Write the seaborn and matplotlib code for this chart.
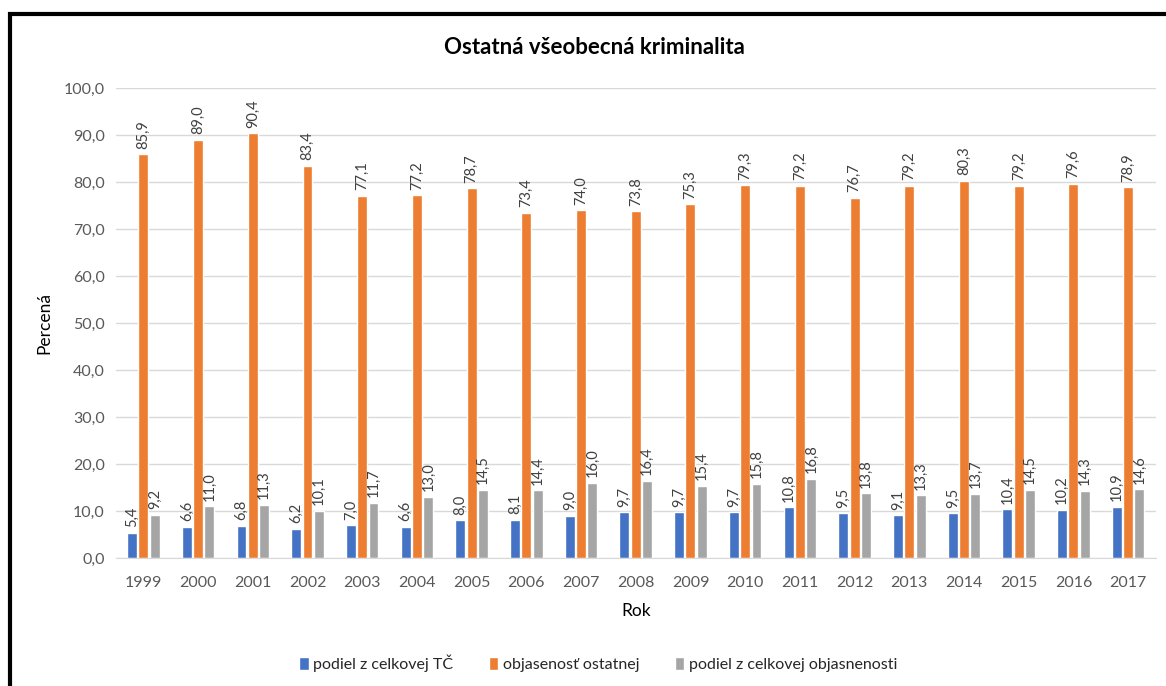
import pandas as pd
import matplotlib.pyplot as plt
import matplotlib.patches as mpatches
from matplotlib.ticker import FuncFormatter, MultipleLocator
import seaborn as sns

# Hodnoty odčítané z grafu
roky = [str(r) for r in range(1999, 2018)]
podiel_tc = [5.4, 6.6, 6.8, 6.2, 7.0, 6.6, 8.0, 8.1, 9.0, 9.7,
             9.7, 9.7, 10.8, 9.5, 9.1, 9.5, 10.4, 10.2, 10.9]
objasenost = [85.9, 89.0, 90.4, 83.4, 77.1, 77.2, 78.7, 73.4, 74.0, 73.8,
              75.3, 79.3, 79.2, 76.7, 79.2, 80.3, 79.2, 79.6, 78.9]
podiel_obj = [9.2, 11.0, 11.3, 10.1, 11.7, 13.0, 14.5, 14.4, 16.0, 16.4,
              15.4, 15.8, 16.8, 13.8, 13.3, 13.7, 14.5, 14.3, 14.6]
serie = ['podiel z celkovej TČ', 'objasenosť ostatnej', 'podiel z celkovej objasnenosti']
farby = ['#4472C4', '#ED7D31', '#A5A5A5']

df = pd.DataFrame({'Rok': roky * 3,
                   'seria': [s for s in serie for _ in roky],
                   'hodnota': podiel_tc + objasenost + podiel_obj})

sns.set_style('white')
plt.rcParams['font.family'] = ['Lato', 'DejaVu Sans']

fig = plt.figure(figsize=(11.66, 6.86), dpi=100)
ax = fig.add_axes([0.0995, 0.1866, 0.8915, 0.6851])

sns.barplot(data=df, x='Rok', y='hodnota', hue='seria', hue_order=serie,
            palette=farby, width=0.62, gap=0.12, saturation=1, ax=ax)

fmt = lambda v: f'{v:.1f}'.replace('.', ',')
for cont in ax.containers:
    ax.bar_label(cont, labels=[fmt(b.get_height()) for b in cont],
                 rotation=90, padding=4, fontsize=10.5, color='#404040')

ax.set_ylim(0, 100)
ax.yaxis.set_major_locator(MultipleLocator(10))
ax.yaxis.set_major_formatter(FuncFormatter(lambda v, p: fmt(v)))
ax.grid(axis='y', color='#D9D9D9', linewidth=1)
ax.set_axisbelow(True)
sns.despine(ax=ax, left=True, top=True, right=True)
ax.spines['bottom'].set_color('#D9D9D9')
ax.tick_params(axis='x', colors='#595959', labelsize=11.5, length=0, pad=13)
ax.tick_params(axis='y', colors='#595959', labelsize=11.5, length=0, pad=8)
ax.set_xlim(-0.5, len(roky) - 0.5)

ax.set_xlabel('Rok', fontsize=12.5, color='black', labelpad=9)
ax.set_ylabel('Percená', fontsize=12.5, color='black', labelpad=8)
fig.text(0.51, 0.931, 'Ostatná všeobecná kriminalita', ha='center', va='center',
         fontsize=16, fontweight='bold', color='black')

ax.legend(loc='center', bbox_to_anchor=(0.513, 0.033), bbox_transform=fig.transFigure,
          ncol=3, frameon=False, fontsize=11.5, handlelength=0.6, handleheight=0.8,
          handletextpad=0.3, columnspacing=2.2)

# čierny rámik okolo grafu
fig.patches.append(mpatches.Rectangle((0.0086, -0.1), 1.2, 1.0796, transform=fig.transFigure,
                                      fill=False, edgecolor='black', linewidth=3, clip_on=False))

fig.savefig('out.png', dpi=100)
